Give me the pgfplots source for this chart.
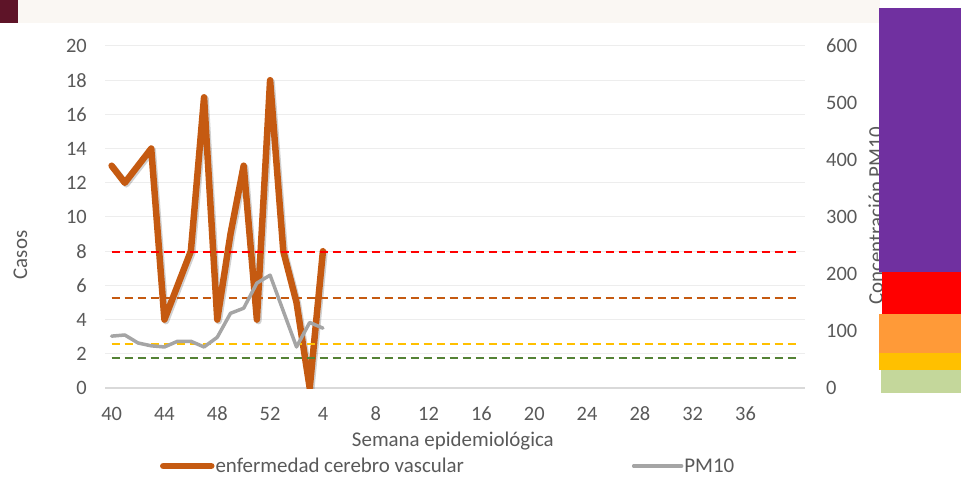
\documentclass[border=0pt]{standalone}
\usepackage{fontspec}
\setmainfont{Carlito}
\usepackage{pgfplots}
\pgfplotsset{compat=1.18}
\definecolor{orgline}{HTML}{C55A11}
\definecolor{grayline}{HTML}{A5A5A5}
\definecolor{txt}{HTML}{595959}
\definecolor{gridc}{HTML}{EDEDED}
\definecolor{axisgray}{HTML}{D9D9D9}
\definecolor{thrRed}{HTML}{FF0000}
\definecolor{thrOrange}{HTML}{C55A11}
\definecolor{thrYellow}{HTML}{FFC000}
\definecolor{thrGreen}{HTML}{548235}
\definecolor{barPurple}{HTML}{7030A0}
\definecolor{barRed}{HTML}{FF0000}
\definecolor{barOrange}{HTML}{FF9A38}
\definecolor{barYellow}{HTML}{FFC000}
\definecolor{barGreen}{HTML}{C4D79B}
\definecolor{bannerDark}{HTML}{5E1428}
\definecolor{bannerLight}{HTML}{FAF7F3}
\begin{document}
\begin{tikzpicture}
\path[use as bounding box] (0bp,0bp) rectangle (961bp,478bp);
\fill[bannerLight] (18bp,455bp) rectangle (880bp,478bp);
\fill[bannerDark] (0bp,455bp) rectangle (18bp,478bp);

% primary axis: Casos
\begin{axis}[
  at={(105bp,90bp)}, anchor=south west,
  scale only axis, width=700bp, height=342bp,
  xmin=-0.5, xmax=52.5, ymin=0, ymax=20,
  xtick={0,4,...,48},
  xticklabels={40,44,48,52,4,8,12,16,20,24,28,32,36},
  ytick={0,2,...,20},
  axis x line*=bottom, axis y line*=left,
  y axis line style={draw=none},
  x axis line style={draw=axisgray, line width=1.5bp, -},
  major tick length=0,
  ymajorgrids, grid style={draw=gridc, line width=1bp},
  tick label style={text=txt, font=\fontsize{20.5}{24}\selectfont},
  /pgf/number format/assume math mode=true,
  xticklabel style={anchor=base, yshift=-32bp, inner sep=0pt},
  yticklabel style={anchor=east, xshift=-18bp, inner sep=0pt},
  xlabel={Semana epidemiológica},
  xlabel style={at={(rel axis cs:0.497,-0.155)}, anchor=center, text=txt, font=\fontsize{21}{24}\selectfont},
  ylabel={Casos},
  ylabel style={at={(rel axis cs:-0.121,0.389)}, anchor=center, text=txt, font=\fontsize{21}{24}\selectfont},
]
\addplot[draw=black, opacity=0.18, line width=6.5bp, line join=round, line cap=round, xshift=1.5bp, yshift=-1.5bp, forget plot]
 coordinates {(0,13) (1,12) (2,13) (3,14) (4,4) (5,6) (6,8) (7,17) (8,4) (9,9) (10,13) (11,4) (12,18) (13,8) (14,5) (15,0) (16,8)};
\addplot[draw=orgline, line width=6.5bp, line join=round, line cap=round]
 coordinates {(0,13) (1,12) (2,13) (3,14) (4,4) (5,6) (6,8) (7,17) (8,4) (9,9) (10,13) (11,4) (12,18) (13,8) (14,5) (15,0) (16,8)};
\end{axis}

% secondary axis: PM10
\begin{axis}[
  at={(105bp,90bp)}, anchor=south west,
  scale only axis, width=700bp, height=342bp,
  xmin=-0.5, xmax=52.5, ymin=0, ymax=600,
  axis y line*=right, axis x line=none,
  y axis line style={draw=none},
  major tick length=0,
  ytick={0,100,...,600},
  tick label style={text=txt, font=\fontsize{20.5}{24}\selectfont},
  /pgf/number format/assume math mode=true,
  yticklabel style={anchor=west, xshift=21bp, inner sep=0pt},
  ylabel={Concentración PM10},
  ylabel style={at={(rel axis cs:1.101,0.503)}, anchor=center, text=txt, font=\fontsize{21}{24}\selectfont},
  legend columns=2,
  legend style={at={(rel axis cs:0.0786,-0.228)}, anchor=west, draw=none, fill=none,
    inner sep=0pt, outer sep=0pt, font=\fontsize{21}{24}\selectfont, text=txt,
    nodes={inner sep=1bp},
    /tikz/every even column/.append style={column sep=167bp}},
  legend cell align=left,
  legend image code/.code={\draw[#1] (0bp,0bp) -- (48bp,0bp);},
]
\addlegendimage{draw=orgline, line width=6.5bp, line cap=round}
\addlegendentry{enfermedad cerebro vascular}
\addplot[draw=thrRed, line width=2bp, dash pattern=on 8bp off 5bp, forget plot] coordinates {(0,238) (52,238)};
\addplot[draw=thrOrange, line width=2bp, dash pattern=on 8bp off 5bp, forget plot] coordinates {(0,158) (52,158)};
\addplot[draw=thrYellow, line width=2bp, dash pattern=on 8bp off 5bp, forget plot] coordinates {(0,78) (52,78)};
\addplot[draw=thrGreen, line width=2bp, dash pattern=on 8bp off 5bp, forget plot] coordinates {(0,52) (52,52)};
\addplot[draw=grayline, line width=3.5bp, line join=round, line cap=round]
 coordinates {(0,91) (1,93) (2,79) (3,74) (4,72) (5,82) (6,82) (7,72) (8,89) (9,131) (10,140) (11,184) (12,198) (13,135) (14,72) (15,115) (16,105)};
\addlegendentry{PM10}
\end{axis}

% colour scale bar
\begin{axis}[
  at={(879bp,85bp)}, anchor=south west,
  scale only axis, width=82bp, height=385bp,
  xmin=879, xmax=961, ymin=0, ymax=385,
  hide axis, clip=false,
]
\addplot[fill=barGreen, draw=none] coordinates {(881,0) (961,0) (961,23) (881,23)} -- cycle;
\addplot[fill=barYellow, draw=none] coordinates {(879,23) (961,23) (961,40) (879,40)} -- cycle;
\addplot[fill=barOrange, draw=none] coordinates {(879,40) (961,40) (961,79) (879,79)} -- cycle;
\addplot[fill=barRed, draw=none] coordinates {(882,79) (961,79) (961,121) (882,121)} -- cycle;
\addplot[fill=barPurple, draw=none] coordinates {(879,121) (961,121) (961,385) (879,385)} -- cycle;
\end{axis}
\end{tikzpicture}
\end{document}
